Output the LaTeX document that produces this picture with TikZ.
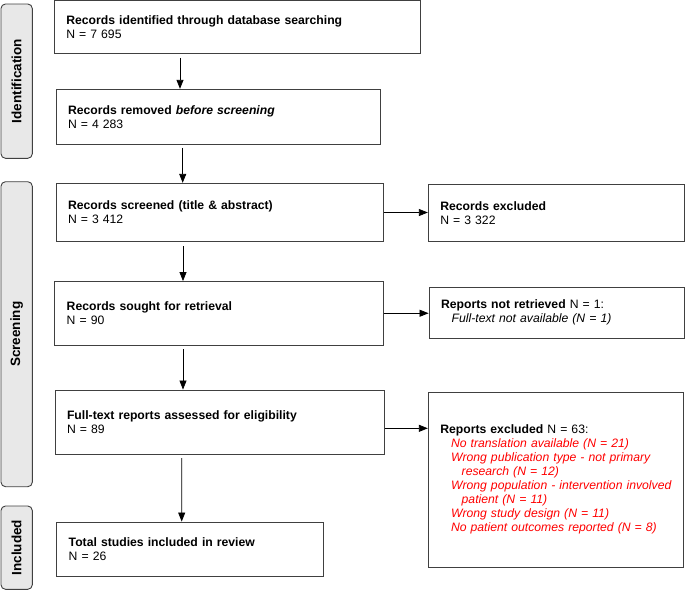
\documentclass[tikz,border=0pt]{standalone}
\usepackage{fontspec}
\setmainfont{Liberation Sans}
\usetikzlibrary{arrows.meta,calc}
\definecolor{boxline}{HTML}{404040}
\definecolor{sidefill}{HTML}{E8E8E8}
\definecolor{redtxt}{HTML}{FF0000}
\newcommand\redline[1]{{\color{redtxt}\itshape #1}}
\begin{document}
\begin{tikzpicture}[x=1pt,y=-1pt,
  every node/.style={font=\fontsize{12.2}{14}\selectfont},
  flow/.style={draw=boxline, line width=0.9pt, align=left, inner xsep=12pt, inner ysep=0pt, anchor=center},
  side/.style={draw=boxline, fill=sidefill, rounded corners=4.5pt, line width=0.9pt, minimum height=31.3pt, inner sep=0pt, font=\fontsize{13.5}{16}\selectfont\bfseries, rotate=90, anchor=center},
  arr/.style={-{Triangle[length=9pt,width=7pt]}, line width=0.8pt, black}]
\useasboundingbox (0,0) rectangle (685,590);

% phase labels
\node[side, minimum width=154.3pt] (sid) at (16.65,81.15) {Identification};
\node[side, minimum width=305pt] (sscr) at (16.65,334.2) {Screening};
\node[side, minimum width=83.3pt] (sinc) at (16.65,547.65) {Included};

% main column
\node[flow, minimum width=365.7pt, minimum height=52.6pt, text width=341.7pt] (b1) at (237.15,27)
  {\textbf{Records identified through database searching}\\N = 7 695};
\node[flow, minimum width=324pt, minimum height=55pt, text width=300pt] (b2) at (218,116.8)
  {\textbf{Records removed \textit{before screening}}\\N = 4 283};
\node[flow, minimum width=327.5pt, minimum height=58.4pt, text width=303.5pt] (b3) at (219.75,212.5)
  {\textbf{Records screened (title \& abstract)}\\N = 3 412};
\node[flow, minimum width=328.6pt, minimum height=63.5pt, text width=304.6pt] (b4) at (219,313.25)
  {\textbf{Records sought for retrieval}\\N = 90};
\node[flow, minimum width=329.3pt, minimum height=64pt, text width=305.3pt] (b5) at (219.65,422)
  {\textbf{Full-text reports assessed for eligibility}\\N = 89};
\node[flow, minimum width=266.3pt, minimum height=54pt, text width=242.3pt] (b6) at (189.85,549)
  {\textbf{Total studies included in review}\\N = 26};

% right column
\node[flow, minimum width=255.7pt, minimum height=57.7pt, text width=231.7pt] (r1) at (556.15,212.85)
  {\textbf{Records excluded}\\N = 3 322};
\node[flow, minimum width=255pt, minimum height=51pt, text width=231pt] (r2) at (556.5,312.5)
  {\textbf{Reports not retrieved} N = 1:\\\hspace*{10.7pt}\textit{Full-text not available (N = 1)}};
\node[flow, minimum width=255.2pt, minimum height=175pt, text width=231.2pt] (r3) at (555.9,479.8)
  {\textbf{Reports excluded} N = 63:\\
   \hspace*{10.7pt}\redline{No translation available (N = 21)}\\
   \hspace*{10.7pt}\redline{Wrong publication type - not primary}\\
   \hspace*{21.4pt}\redline{research (N = 12)}\\
   \hspace*{10.7pt}\redline{Wrong population - intervention involved}\\
   \hspace*{21.4pt}\redline{patient (N = 11)}\\
   \hspace*{10.7pt}\redline{Wrong study design (N = 11)}\\
   \hspace*{10.7pt}\redline{No patient outcomes reported (N = 8)}};

% vertical connectors
\draw[arr] ([xshift=-57.15pt,yshift=-4pt]b1.south) -- ([xshift=-38pt]b2.north);
\draw[arr] ([xshift=-35.3pt,yshift=-3pt]b2.south) -- ([xshift=-37.05pt]b3.north);
\draw[arr] ([xshift=-36.75pt,yshift=-4.3pt]b3.south) -- ([xshift=-36pt]b4.north);
\draw[arr] ([xshift=-36pt,yshift=-4pt]b4.south) -- ([xshift=-36.65pt]b5.north);
\draw[arr] ([xshift=-37.95pt,yshift=-3.7pt]b5.south) -- ([xshift=-8.15pt]b6.north);

% horizontal connectors
\draw[arr] (b3.east) -- (b3.east -| r1.west);
\draw[arr] (b4.east) -- (b4.east -| r2.west);
\coordinate (c5) at ([yshift=-6.3pt]b5.east);
\draw[arr] (c5) -- (c5 -| r3.west);
\end{tikzpicture}
\end{document}
